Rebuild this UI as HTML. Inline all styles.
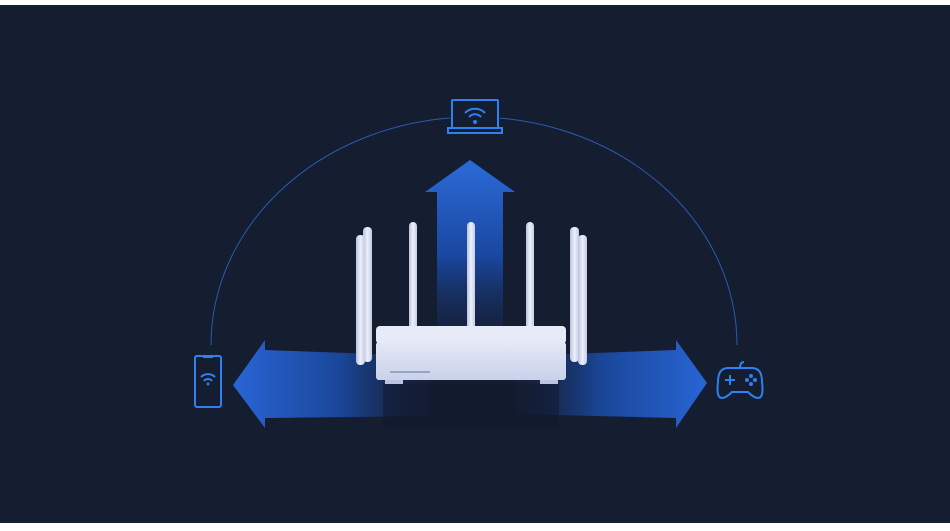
<!DOCTYPE html>
<html><head><meta charset="utf-8"><style>
html,body{margin:0;padding:0;background:#fff;width:950px;height:531px;overflow:hidden}
</style></head><body>
<svg width="950" height="531" viewBox="0 0 950 531" xmlns="http://www.w3.org/2000/svg">
<defs>
<linearGradient id="up" x1="0" y1="0" x2="0" y2="1">
<stop offset="0" stop-color="#2b6bd8"/><stop offset="0.55" stop-color="#1a47a0"/><stop offset="1" stop-color="#162a55" stop-opacity="0.3"/></linearGradient>
<linearGradient id="lf" x1="0" y1="0" x2="1" y2="0">
<stop offset="0" stop-color="#2865d6"/><stop offset="0.55" stop-color="#1a4698"/><stop offset="1" stop-color="#17264a" stop-opacity="0.3"/></linearGradient>
<linearGradient id="rt" x1="1" y1="0" x2="0" y2="0">
<stop offset="0" stop-color="#2865d6"/><stop offset="0.55" stop-color="#1a4698"/><stop offset="1" stop-color="#17264a" stop-opacity="0.3"/></linearGradient>
<linearGradient id="body" x1="0" y1="0" x2="0" y2="1">
<stop offset="0" stop-color="#e4e9f6"/><stop offset="1" stop-color="#c9d2ea"/></linearGradient>
<linearGradient id="ant" x1="0" y1="0" x2="1" y2="0">
<stop offset="0" stop-color="#b9c3dd"/><stop offset="0.5" stop-color="#eef1fa"/><stop offset="1" stop-color="#c3cce4"/></linearGradient>
</defs>
<rect x="0" y="5" width="950" height="518" fill="#151d30"/>
<path d="M211 345 A263 228 0 0 1 737 345" fill="none" stroke="#2a5bb0" stroke-width="1"/>
<polygon points="470,160 515,192 503,192 503,335 437,335 437,192 425,192" fill="url(#up)"/>
<polygon points="233,385 265,340 265,350 430,356 430,416 265,418 265,428" fill="url(#lf)"/>
<polygon points="707,383 676,340 676,350 515,356 515,414 676,418 676,428" fill="url(#rt)"/>
<rect x="383" y="383" width="176" height="45" fill="#10172a" opacity="0.5"/>
<g fill="url(#ant)">
<rect x="363" y="227" width="9" height="135" rx="4"/>
<rect x="356" y="235" width="9" height="130" rx="4"/>
<rect x="409" y="222" width="8" height="110" rx="4"/>
<rect x="467" y="222" width="8" height="110" rx="4"/>
<rect x="526" y="222" width="8" height="110" rx="4"/>
<rect x="570" y="227" width="9" height="135" rx="4"/>
<rect x="578" y="235" width="9" height="130" rx="4"/>
</g>
<rect x="376" y="326" width="190" height="18" rx="4" fill="#e6ebf7"/>
<rect x="376" y="342" width="190" height="38" rx="3" fill="url(#body)"/>
<rect x="385" y="380" width="18" height="4" fill="#bcc5df"/>
<rect x="540" y="380" width="18" height="4" fill="#bcc5df"/>
<rect x="390" y="371" width="40" height="2" fill="#9aa5c3"/>
<g fill="none" stroke="#2f80f0" stroke-width="2">
<rect x="195" y="356" width="26" height="51" rx="2"/>
<path d="M203 357 h10"/>
<path d="M201 377 a10 10 0 0 1 14 0 M204 381 a5 5 0 0 1 8 0"/>
</g>
<circle cx="208" cy="384" r="1.5" fill="#2f80f0"/>
<rect x="450" y="98" width="50" height="37" fill="#151d30"/>
<g fill="none" stroke="#2f80f0" stroke-width="2">
<rect x="452" y="100" width="46" height="28" rx="1"/>
<rect x="448" y="128" width="54" height="5"/>
<path d="M465 113 a14 14 0 0 1 20 0 M469 117 a8 8 0 0 1 12 0"/>
</g>
<circle cx="475" cy="122" r="2" fill="#2f80f0"/>
<g fill="none" stroke="#2f80f0" stroke-width="2">
<path d="M740 368 q0 -6 4 -6"/>
<path d="M728 368 h24 q10 0 10 14 q2 16 -4 16 q-4 0 -10 -6 h-16 q-6 6 -10 6 q-6 0 -4 -16 q0 -14 10 -14z"/>
<path d="M725 380 h10 M730 375 v10"/>
</g>
<g fill="#2f80f0"><circle cx="751" cy="376" r="2"/><circle cx="751" cy="384" r="2"/><circle cx="747" cy="380" r="2"/><circle cx="755" cy="380" r="2"/></g>
</svg>
</body></html>
